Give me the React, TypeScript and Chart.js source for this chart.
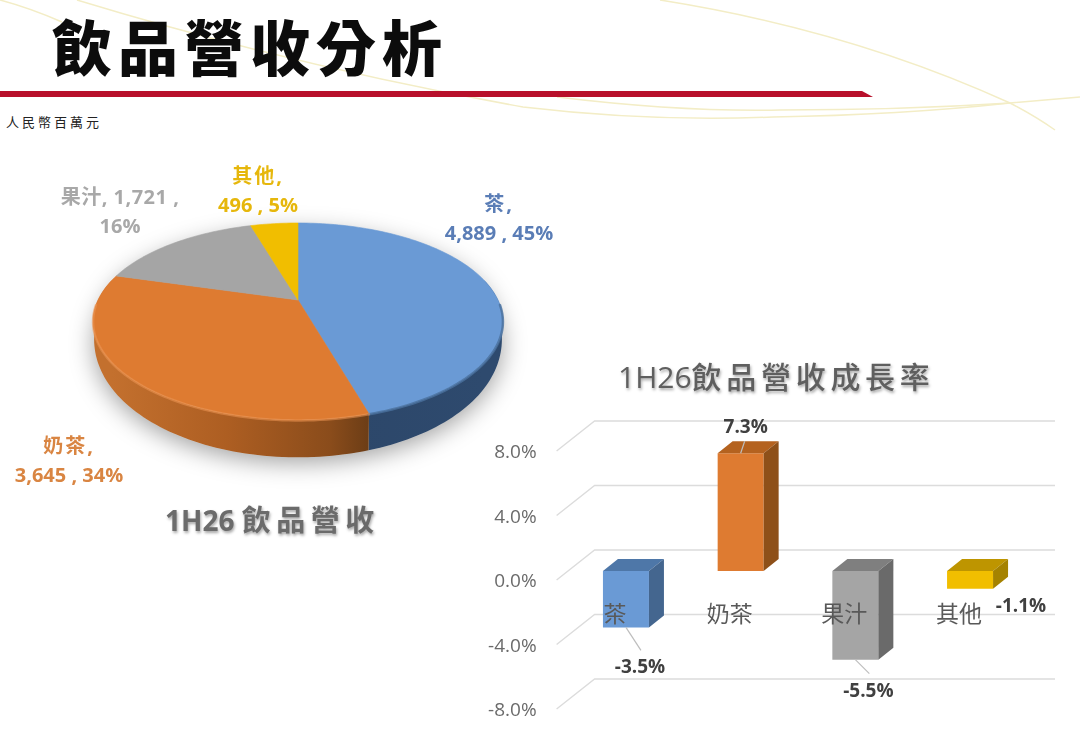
import { useEffect, useRef } from 'react'
import { Chart, registerables } from 'chart.js'

Chart.register(...registerables)

const categories = ['茶', '奶茶', '果汁', '其他']
const revenue = [4889, 3645, 1721, 496]
const growth = [-3.5, 7.3, -5.5, -1.1]
const growthTicks = [-8, -4, 0, 4, 8]

const faceColors = ['#6A9AD5', '#DE7B31', '#A5A5A5', '#F1BE00']
const barSideColors = ['#44668F', '#8E5019', '#6A6A6A', '#A58200']
const barTopColors = ['#4E77A8', '#B4621F', '#7F7F7F', '#BE9500']
const labelColors = ['#5A7DB6', '#D98542', '#A8A8A8', '#E6B70C']

// where the pie labels sit on the page (centre x, first line y)
const pieLabelPos = [
  [499, 205],
  [69, 447],
  [120, 198],
  [258, 177],
]
// label offset from the end of each bar, and its leader line end
const barLabelOffset = [
  [14, 40],
  [5, -26],
  [13, 32],
  [51, 18],
]
const leaderEnd = [[15, 23], [4, -12], [14, 14], null]

const SANS = '"Open Sans", "Noto Sans CJK TC", sans-serif'
const CJK = '"Noto Sans CJK TC", sans-serif'

// perspective of the tilted pie
const TILT = 0.218
const SQUASH = 0.469
const DROP = 38
const BOTTOM_SCALE = 0.995

function project(el: any, angle: number, scale = 1, drop = 0) {
  const u = Math.cos(angle)
  const v = Math.sin(angle)
  const w = 1 - TILT * v
  // the rim looks thinner towards the sides of the disc
  const depth = drop * Math.max(0.1, 0.32 + 0.68 * v)
  return {
    x: el.x + (el.outerRadius * scale * u) / w,
    y: el.y + depth + (el.outerRadius * SQUASH * scale * v) / w,
  }
}

function traceRim(ctx: CanvasRenderingContext2D, el: any, a0: number, a1: number, scale = 1, drop = 0, join = true) {
  const steps = Math.max(2, Math.ceil(Math.abs(a1 - a0) * 40))
  for (let i = 0; i <= steps; i++) {
    const p = project(el, a0 + ((a1 - a0) * i) / steps, scale, drop)
    if (i === 0 && !join) ctx.moveTo(p.x, p.y)
    else ctx.lineTo(p.x, p.y)
  }
}

const pie3d = {
  id: 'pie3d',
  beforeDatasetDraw(chart: any) {
    const ctx = chart.ctx as CanvasRenderingContext2D
    const arcs = chart.getDatasetMeta(0).data
    const first = arcs[0]

    // soft shadow under the disc
    ctx.save()
    ctx.shadowColor = 'rgba(0,0,0,0.38)'
    ctx.shadowBlur = 24
    ctx.shadowOffsetY = 5
    ctx.fillStyle = '#d8d8d8'
    ctx.beginPath()
    traceRim(ctx, first, 0, Math.PI * 2, BOTTOM_SCALE, DROP, false)
    ctx.closePath()
    ctx.fill()
    ctx.restore()

    // rim: only the part facing the viewer
    const lo = -0.22
    const hi = Math.PI + 0.22
    arcs.forEach((el: any, i: number) => {
      const a0 = Math.max(el.startAngle, lo)
      const a1 = Math.min(el.endAngle, hi)
      if (a1 <= a0) return
      const grad = ctx.createLinearGradient(project(el, hi).x, 0, project(el, a0).x, 0)
      if (i === 0) {
        grad.addColorStop(0, '#2A4263')
        grad.addColorStop(1, '#2E4A6E')
      } else {
        grad.addColorStop(0, '#C3702E')
        grad.addColorStop(0.45, '#AD5E22')
        grad.addColorStop(0.85, '#8A4C1B')
        grad.addColorStop(1, '#6C3D16')
      }
      ctx.fillStyle = grad
      ctx.beginPath()
      traceRim(ctx, el, a0, a1, 1, 0, false)
      traceRim(ctx, el, a1, a0, BOTTOM_SCALE, DROP)
      ctx.closePath()
      ctx.fill()
    })

    // top face
    arcs.forEach((el: any) => {
      ctx.fillStyle = el.options.backgroundColor
      ctx.strokeStyle = el.options.backgroundColor
      ctx.lineWidth = 0.6
      ctx.beginPath()
      ctx.moveTo(el.x, el.y)
      traceRim(ctx, el, el.startAngle, el.endAngle)
      ctx.closePath()
      ctx.fill()
      ctx.stroke()
    })

    // bevel along the near edge
    arcs.forEach((el: any, i: number) => {
      const a0 = Math.max(el.startAngle, 0.05)
      const a1 = Math.min(el.endAngle, Math.PI - 0.05)
      if (a1 <= a0) return
      ctx.strokeStyle = i === 0 ? 'rgba(74,112,158,0.8)' : 'rgba(236,150,84,0.55)'
      ctx.lineWidth = 2.5
      ctx.lineCap = 'round'
      ctx.beginPath()
      traceRim(ctx, el, a0, a1, 1, 0.5, false)
      ctx.stroke()
    })

    // labels
    const total = revenue.reduce((a, b) => a + b, 0)
    ctx.textAlign = 'center'
    ctx.textBaseline = 'middle'
    ctx.font = `bold 20px ${SANS}`
    categories.forEach((cat, i) => {
      const val = revenue[i].toLocaleString('en-US')
      const pct = Math.round((revenue[i] / total) * 100)
      // the juice label wraps later than the others
      const wrapsLate = cat === '果汁'
      const lines = wrapsLate ? [`${cat}, ${val} ,`, `${pct}%`] : [`${cat},`, `${val} , ${pct}%`]
      ctx.fillStyle = labelColors[i]
      lines.forEach((line, j) => {
        ;(ctx as any).letterSpacing = j > 0 ? '0px' : wrapsLate ? '0.5px' : '2px'
        ctx.fillText(line, pieLabelPos[i][0], pieLabelPos[i][1] + j * 29)
      })
    })
    ;(ctx as any).letterSpacing = '0px'
    return false
  },
}

const bar3d = {
  id: 'bar3d',
  beforeDatasetsDraw(chart: any) {
    // back wall and floor lines, taken from the y scale
    const ctx = chart.ctx as CanvasRenderingContext2D
    const y = chart.scales.y
    const x0 = chart.chartArea.left - 12
    ctx.save()
    ctx.strokeStyle = '#DCDCDC'
    ctx.lineWidth = 1.4
    growthTicks.forEach(t => {
      const py = y.getPixelForValue(t)
      ctx.beginPath()
      ctx.moveTo(x0, py + 9)
      ctx.lineTo(x0 + 38, py - 21)
      ctx.lineTo(1055, py - 21)
      ctx.stroke()
    })
    ctx.restore()
  },
  afterDatasetsDraw(chart: any) {
    const ctx = chart.ctx as CanvasRenderingContext2D
    const bars = chart.getDatasetMeta(0).data
    const dx = 15
    const dy = -12
    ctx.save()
    bars.forEach((bar: any, i: number) => {
      const left = bar.x - bar.width / 2
      const right = bar.x + bar.width / 2
      const top = Math.min(bar.y, bar.base)
      const bottom = Math.max(bar.y, bar.base)
      ctx.fillStyle = barTopColors[i]
      ctx.beginPath()
      ctx.moveTo(left, top)
      ctx.lineTo(left + dx, top + dy)
      ctx.lineTo(right + dx, top + dy)
      ctx.lineTo(right, top)
      ctx.closePath()
      ctx.fill()
      ctx.fillStyle = barSideColors[i]
      ctx.beginPath()
      ctx.moveTo(right, top)
      ctx.lineTo(right + dx, top + dy)
      ctx.lineTo(right + dx, bottom + dy)
      ctx.lineTo(right, bottom)
      ctx.closePath()
      ctx.fill()

      const end = leaderEnd[i]
      if (end) {
        ctx.strokeStyle = '#BDBDBD'
        ctx.lineWidth = 1.2
        ctx.beginPath()
        ctx.moveTo(bar.x, bar.y)
        ctx.lineTo(bar.x + end[0], bar.y + end[1])
        ctx.stroke()
      }
      ctx.fillStyle = '#404040'
      ctx.font = `bold 19px ${SANS}`
      ctx.textAlign = 'center'
      ctx.textBaseline = 'middle'
      ctx.fillText(`${growth[i].toFixed(1)}%`, bar.x + barLabelOffset[i][0], bar.y + barLabelOffset[i][1])
    })
    ctx.restore()
  },
}

const canvasStyle = { position: 'absolute', left: 0, top: 0, display: 'block' } as const
const shadowText = '1px 2px 3px rgba(0,0,0,0.35)'

export default function App() {
  const pieRef = useRef<HTMLCanvasElement>(null)
  const barRef = useRef<HTMLCanvasElement>(null)

  useEffect(() => {
    if (!pieRef.current || !barRef.current) return

    const pie = new Chart(pieRef.current, {
      type: 'pie',
      data: {
        labels: categories,
        datasets: [{ data: revenue, backgroundColor: faceColors, borderWidth: 0 }],
      },
      options: {
        responsive: false,
        animation: false,
        layout: { padding: { left: 98, right: 582, top: 100, bottom: 246 } },
        plugins: { legend: { display: false }, tooltip: { enabled: false } },
      },
      plugins: [pie3d],
    } as any)

    const bar = new Chart(barRef.current, {
      type: 'bar',
      data: {
        labels: categories,
        datasets: [{
          data: growth,
          backgroundColor: faceColors,
          borderWidth: 0,
          barPercentage: 0.401,
          categoryPercentage: 1,
        }],
      },
      options: {
        responsive: false,
        animation: false,
        layout: { padding: { left: 480, right: 52.6, top: 442, bottom: 46 } },
        plugins: { legend: { display: false }, tooltip: { enabled: false } },
        scales: {
          x: {
            position: { y: 0 },
            grid: { display: false, drawTicks: false },
            border: { display: false },
            ticks: {
              z: 1,
              autoSkip: false,
              maxRotation: 0,
              padding: 28,
              labelOffset: -11,
              color: '#595959',
              font: { family: CJK, size: 23 },
            },
          },
          y: {
            min: -8,
            max: 8,
            afterFit: (axis: any) => { axis.width = 88.6 },
            grid: { display: false, drawTicks: false },
            border: { display: false },
            ticks: {
              stepSize: 4,
              padding: 32,
              labelOffset: 11,
              color: '#6B6B6B',
              font: { family: SANS, size: 19 },
              callback: (v: any) => `${Number(v).toFixed(1)}%`,
            },
          },
        },
      },
      plugins: [bar3d],
    } as any)

    return () => {
      pie.destroy()
      bar.destroy()
    }
  }, [])

  return (
    <div style={{ position: 'absolute', left: 0, top: 0, width: 1080, height: 746, overflow: 'hidden', background: '#fff' }}>
      {/* slide background */}
      <svg width={1080} height={746} style={{ position: 'absolute', left: 0, top: 0 }}>
        <g fill="none" stroke="#F3EDC6" strokeWidth={1.5}>
          <path d="M0 0 Q30 8 62 22" />
          <path d="M77 0 Q290 65 523 107 Q650 122 773 117 Q900 115 1010 103 L1080 97" />
          <path d="M557 97 Q680 112 780 110 Q900 110 1010 103" />
          <path d="M660 0 Q850 30 1010 103 Q1035 116 1055 130" />
        </g>
        <polygon points="0,91 862,91 873,97 0,97" fill="#B8102B" />
      </svg>
      <div style={{ position: 'absolute', left: 52, top: 3, fontFamily: CJK, fontWeight: 900, fontSize: 60, letterSpacing: 6, color: '#0c0c0c', whiteSpace: 'nowrap', lineHeight: '84px' }}>
        飲品營收分析
      </div>
      <div style={{ position: 'absolute', left: 6, top: 112, fontFamily: CJK, fontSize: 13, letterSpacing: 3, color: '#222', whiteSpace: 'nowrap', lineHeight: '20px' }}>
        人民幣百萬元
      </div>
      <canvas ref={pieRef} width={1080} height={746} style={canvasStyle} />
      <canvas ref={barRef} width={1080} height={746} style={canvasStyle} />
      <div style={{ position: 'absolute', left: 165, top: 498, fontFamily: SANS, fontWeight: 700, fontSize: 28, color: '#6B6B6B', textShadow: shadowText, whiteSpace: 'nowrap', lineHeight: '44px' }}>
        1H26 <span style={{ fontSize: 29, letterSpacing: 5.5 }}>飲品營收</span>
      </div>
      <div style={{ position: 'absolute', left: 618, top: 355, fontFamily: SANS, fontSize: 30, fontWeight: 500, color: '#5F5F5F', textShadow: shadowText, whiteSpace: 'nowrap', lineHeight: '44px' }}>
        1H26<span style={{ letterSpacing: 4.7 }}>飲品營收成長率</span>
      </div>
    </div>
  )
}
